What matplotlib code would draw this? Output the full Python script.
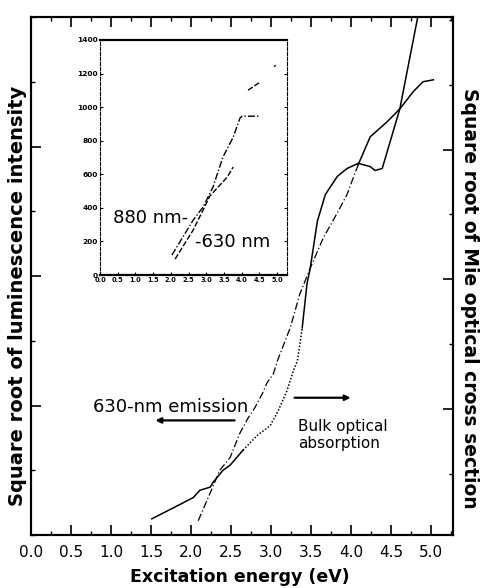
import numpy as np
import matplotlib.pyplot as plt
from matplotlib.ticker import MultipleLocator

plt.rcParams['font.family'] = ['DejaVu Sans']

# main panel: 630-nm emission (left axis, arbitrary units)
emis_x = [1.51, 1.78, 2.03, 2.11, 2.24, 2.28, 2.40, 2.49, 2.65, 2.83, 2.99, 3.09,
          3.20, 3.28, 3.33, 3.39, 3.45, 3.49, 3.58, 3.68, 3.83, 3.95, 4.09, 4.24,
          4.30, 4.39, 4.61, 4.85]
emis_y = [0.25, 0.42, 0.58, 0.69, 0.74, 0.82, 1.00, 1.08, 1.31, 1.54, 1.69, 1.92,
          2.23, 2.54, 2.69, 3.20, 3.88, 4.12, 4.85, 5.26, 5.54, 5.66, 5.74, 5.69,
          5.63, 5.66, 6.58, 8.10]

# main panel: bulk optical absorption (right axis)
abs_x = [2.09, 2.24, 2.36, 2.49, 2.61, 2.71, 2.80, 2.89, 2.95, 3.03, 3.08, 3.24,
         3.36, 3.49, 3.65, 3.84, 3.95, 4.09, 4.24, 4.45, 4.61, 4.78, 4.90, 5.03]
abs_y = [0.22, 0.65, 1.00, 1.20, 1.57, 1.80, 1.97, 2.18, 2.35, 2.49, 2.69, 3.20,
         3.72, 4.12, 4.58, 5.00, 5.26, 5.72, 6.15, 6.38, 6.58, 6.85, 7.00, 7.03]

# inset curves
in880_x = [2.03, 2.63, 2.91, 3.19, 3.47, 3.76, 3.95, 4.01, 4.52]
in880_y = [119, 327, 405, 524, 702, 821, 934, 946, 946]
in630_x = [2.12, 2.63, 2.91, 3.10, 3.59, 3.76, np.nan, 4.18, 4.52, np.nan, 4.92, 4.96]
in630_y = [95, 268, 387, 470, 583, 643, np.nan, 1101, 1149, np.nan, 1240, 1250]

xticks = np.arange(0, 5.01, 0.5)
inset_yticks = [0, 200, 400, 600, 800, 1000, 1200, 1400]

fig = plt.figure(figsize=(4.82, 5.88), dpi=100)
ax = fig.add_axes([0.0643, 0.0901, 0.8764, 0.881])

ex = np.array(emis_x)
ey = np.array(emis_y)
seg1 = ex <= 2.65
seg2 = (ex >= 2.65) & (ex <= 3.39)
seg3 = ex >= 3.39
ax.plot(ex[seg1], ey[seg1], color='black', lw=1.1)
ax.plot(ex[seg2], ey[seg2], color='black', lw=1.1, ls=(0, (1, 1.2)))
ax.plot(ex[seg3], ey[seg3], color='black', lw=1.1)

bx = np.array(abs_x)
by = np.array(abs_y)
ax.plot(bx[bx <= 4.09], by[bx <= 4.09], color='black', lw=0.9, ls=(0, (6, 2, 1, 2)))
ax.plot(bx[bx >= 4.09], by[bx >= 4.09], color='black', lw=1.1)

ax.set_xlim(0, 5.28)
ax.set_ylim(0, 8)
ax.set_xticks(xticks)
ax.set_xticklabels([f'{v:.1f}' for v in xticks], fontsize=11)
ax.xaxis.set_minor_locator(MultipleLocator(0.25))
ax.set_yticks([2, 4, 6])
ax.yaxis.set_minor_locator(MultipleLocator(1))
ax.set_yticklabels([])
ax.tick_params(which='major', direction='in', length=7, width=1.2, top=True, pad=7)
ax.tick_params(which='minor', direction='in', length=3, width=1.0, top=True)
ax.tick_params(axis='y', which='both', right=False)
for s in ax.spines.values():
    s.set_linewidth(1.5)

ax2 = ax.twinx()
ax2.set_ylim(0.05, 8.05)
ax2.set_yticks([2, 4, 6])
ax2.yaxis.set_minor_locator(MultipleLocator(1))
ax2.set_yticklabels([])
ax2.tick_params(which='major', direction='in', length=7, width=1.2)
ax2.tick_params(which='minor', direction='in', length=3, width=1.0)
for s in ax2.spines.values():
    s.set_linewidth(1.5)

# axis titles placed in figure pixels of the original
fig.text(240 / 482, 1 - 577 / 588, 'Excitation energy (eV)', fontsize=12.5,
         fontweight='bold', ha='center', va='center')
fig.text(18 / 482, 1 - 296 / 588, 'Square root of luminescence intensity',
         fontsize=14, fontweight='bold', rotation=90, ha='center', va='center')
fig.text(469 / 482, 1 - 298 / 588, 'Square root of Mie optical cross section',
         fontsize=13.5, fontweight='bold', rotation=270, ha='center', va='center')

ax.text(0.775, 1.97, '630-nm emission', fontsize=13, va='center', ha='left')
ax.annotate('', xy=(1.52, 1.77), xytext=(2.58, 1.77),
            arrowprops=dict(arrowstyle='-|>', color='black', lw=1.6, mutation_scale=8))
ax.text(3.34, 1.54, 'Bulk optical\nabsorption', fontsize=11, va='center', ha='left',
        linespacing=1.15)
ax.annotate('', xy=(4.03, 2.12), xytext=(3.26, 2.12),
            arrowprops=dict(arrowstyle='-|>', color='black', lw=1.6, mutation_scale=8))

# inset
ins = fig.add_axes([0.2075, 0.5323, 0.388, 0.3997])
ins.plot(in880_x, in880_y, color='black', lw=1.0, ls=(0, (5, 1.5, 1, 1.5)))
ins.plot(in630_x, in630_y, color='black', lw=1.0, ls=(0, (4, 1.5)))
ins.set_xlim(0, 5.28)
ins.set_ylim(0, 1400)
ins.set_xticks(xticks)
ins.set_xticklabels([f'{v:.1f}' for v in xticks], fontsize=4.8, fontweight='bold')
ins.set_yticks(inset_yticks)
ins.set_yticklabels([str(v) for v in inset_yticks], fontsize=5.3, fontweight='bold')
ins.tick_params(direction='in', length=2.5, width=0.8, right=True, pad=1.5)
ins.spines['top'].set_linewidth(1.6)
ins.spines['bottom'].set_linewidth(1.6)
ins.spines['left'].set_linewidth(0.8)
ins.spines['right'].set_linewidth(0.8)
ins.spines['left'].set_linestyle((0, (3, 1.5)))
ins.spines['right'].set_linestyle((0, (3, 1.5)))
ins.text(0.37, 339, '880 nm-', fontsize=13, va='center', ha='left')
ins.text(2.68, 196, '-630 nm', fontsize=13, va='center', ha='left')

fig.savefig('out.png', dpi=100)
